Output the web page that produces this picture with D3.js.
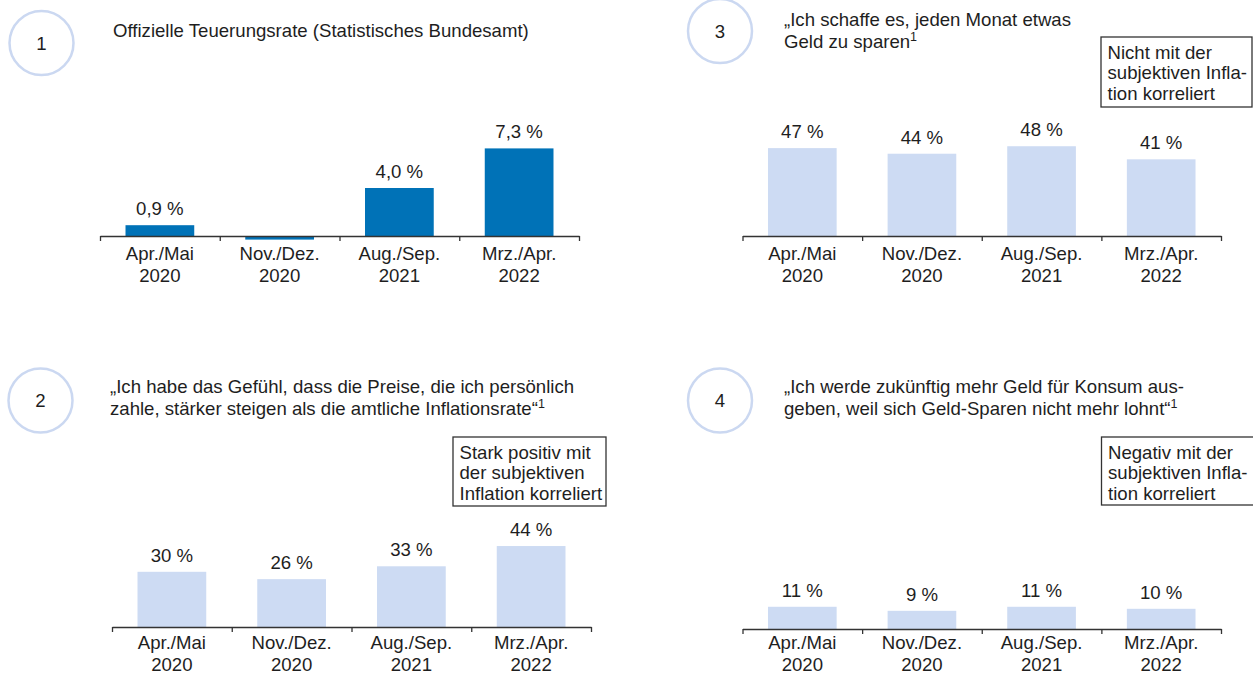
<!DOCTYPE html>
<html>
<head>
<meta charset="utf-8">
<script src="https://cdn.jsdelivr.net/npm/d3@7"></script>
<style>
  body { margin: 0; background: #fff; }
  svg { display: block; font-family: "Liberation Sans", Arial, Helvetica, sans-serif; }
  text { fill: #1e1e1e; }
</style>
</head>
<body>
<script>
// data
var categories = [["Apr./Mai", "2020"], ["Nov./Dez.", "2020"], ["Aug./Sep.", "2021"], ["Mrz./Apr.", "2022"]];
var officialRate = [0.9, -0.3, 4.0, 7.3];     // Statistisches Bundesamt, %
var pricesRiseMore = [30, 26, 33, 44];        // panel 2
var canSaveMonthly = [47, 44, 48, 41];        // panel 3
var spendMoreFuture = [11, 9, 11, 10];        // panel 4

var titles = {
  p1: ["Offizielle Teuerungsrate (Statistisches Bundesamt)"],
  p2: ["\u201EIch habe das Gef\u00FChl, dass die Preise, die ich pers\u00F6nlich", "zahle, st\u00E4rker steigen als die amtliche Inflationsrate\u201C"],
  p3: ["\u201EIch schaffe es, jeden Monat etwas", "Geld zu sparen"],
  p4: ["\u201EIch werde zuk\u00FCnftig mehr Geld f\u00FCr Konsum aus-", "geben, weil sich Geld-Sparen nicht mehr lohnt\u201C"]
};
var notes = {
  p2: ["Stark positiv mit", "der subjektiven", "Inflation korreliert"],
  p3: ["Nicht mit der", "subjektiven Infla-", "tion korreliert"],
  p4: ["Negativ mit der", "subjektiven Infla-", "tion korreliert"]
};

var width = 1253, height = 677;
var darkBlue = "#0072b7", lightBlue = "#cddbf3", ringColor = "#cbd8f1";
var fs = 18.6;

var de = d3.formatLocale({decimal: ",", thousands: ".", grouping: [3], currency: ["", " \u20AC"]});
var fmt1 = de.format(".1f"), fmt0 = de.format(".0f");

var svg = d3.select("body").append("svg")
  .attr("width", width)
  .attr("height", height);

// layout of the four panels
var panels = [
  {num: 1, values: officialRate, fmt: fmt1, color: darkBlue, title: titles.p1,
   cx: 41.5, cy: 43, tx: 113, ty: 36.5, x0: 100, x1: 579, axisY: 236, labY: 259.5, yMax: 8, yPx: 96},
  {num: 2, values: pricesRiseMore, fmt: fmt0, color: lightBlue, title: titles.p2, sup: true,
   cx: 40.5, cy: 400.5, tx: 110, ty: 392.5, x0: 112, x1: 591, axisY: 627, labY: 648.5, yMax: 50, yPx: 92,
   note: notes.p2, box: [453, 437, 153, 69]},
  {num: 3, values: canSaveMonthly, fmt: fmt0, color: lightBlue, title: titles.p3, sup: true,
   cx: 720, cy: 31, tx: 784, ty: 25.5, x0: 742.5, x1: 1221, axisY: 236, labY: 259.5, yMax: 50, yPx: 93.5,
   note: notes.p3, box: [1101, 37, 151, 70]},
  {num: 4, values: spendMoreFuture, fmt: fmt0, color: lightBlue, title: titles.p4, sup: true,
   cx: 720, cy: 400.5, tx: 784, ty: 392.5, x0: 742.5, x1: 1221, axisY: 629, labY: 648.5, yMax: 50, yPx: 101,
   note: notes.p4, box: [1101.5, 437, 160, 68]}
];

panels.forEach(drawPanel);

function drawPanel(p) {
  var g = svg.append("g");

  // number ring
  g.append("circle")
    .attr("cx", p.cx).attr("cy", p.cy).attr("r", 32)
    .attr("fill", "none")
    .attr("stroke", ringColor)
    .attr("stroke-width", 2.5);
  g.append("text")
    .attr("x", p.cx).attr("y", p.cy + 6.5)
    .attr("text-anchor", "middle")
    .attr("font-size", fs)
    .text(p.num);

  // title lines
  var title = g.append("text")
    .attr("x", p.tx).attr("y", p.ty)
    .attr("font-size", fs);
  p.title.forEach(function(line, i) {
    title.append("tspan")
      .attr("x", p.tx)
      .attr("y", p.ty + i * 22.5)
      .text(line);
  });
  if (p.sup) {
    title.append("tspan")
      .attr("font-size", 12.5)
      .attr("dy", -7)
      .text("1");
  }

  // annotation box
  if (p.note) {
    var b = p.box;
    g.append("rect")
      .attr("x", b[0]).attr("y", b[1])
      .attr("width", b[2]).attr("height", b[3])
      .attr("fill", "#fff")
      .attr("stroke", "#333")
      .attr("stroke-width", 1.3);
    p.note.forEach(function(line, i) {
      g.append("text")
        .attr("x", b[0] + 6.5)
        .attr("y", b[1] + 21.5 + i * 20.5)
        .attr("font-size", fs)
        .text(line);
    });
  }

  // scales
  var x = d3.scaleBand()
    .domain(d3.range(categories.length))
    .range([p.x0, p.x1])
    .paddingInner(0.426)
    .paddingOuter(0.213);

  var y = d3.scaleLinear()
    .domain([0, p.yMax])
    .range([p.axisY, p.axisY - p.yPx]);

  // bars
  g.selectAll(".bar")
    .data(p.values)
    .enter().append("rect")
    .attr("class", "bar")
    .attr("x", function(d, i) { return x(i); })
    .attr("y", function(d) { return y(Math.max(0, d)); })
    .attr("width", x.bandwidth())
    .attr("height", function(d) { return Math.abs(y(d) - y(0)); })
    .attr("fill", p.color);

  // value labels (the negative one has none in the original)
  g.selectAll(".val")
    .data(p.values)
    .enter().append("text")
    .attr("class", "val")
    .attr("x", function(d, i) { return x(i) + x.bandwidth() / 2; })
    .attr("y", function(d) { return y(d) - 10; })
    .attr("text-anchor", "middle")
    .attr("font-size", fs)
    .text(function(d) { return d > 0 ? p.fmt(d) + " %" : ""; });

  // axis with ticks on the band edges
  var edges = d3.scaleLinear().domain([0, categories.length]).range([p.x0, p.x1]);
  var axis = g.append("g")
    .attr("transform", "translate(0," + p.axisY + ")")
    .call(d3.axisBottom(edges)
      .ticks(categories.length)
      .tickSize(5)
      .tickSizeOuter(0)
      .tickFormat(""));
  axis.select(".domain").attr("stroke", "#333").attr("stroke-width", 1.4);
  axis.selectAll(".tick line").attr("stroke", "#333").attr("stroke-width", 1.3);

  // category labels
  categories.forEach(function(c, i) {
    var t = g.append("text")
      .attr("text-anchor", "middle")
      .attr("font-size", fs);
    c.forEach(function(line, j) {
      t.append("tspan")
        .attr("x", x(i) + x.bandwidth() / 2)
        .attr("y", p.labY + j * 22.5)
        .text(line);
    });
  });
}
</script>
</body>
</html>
